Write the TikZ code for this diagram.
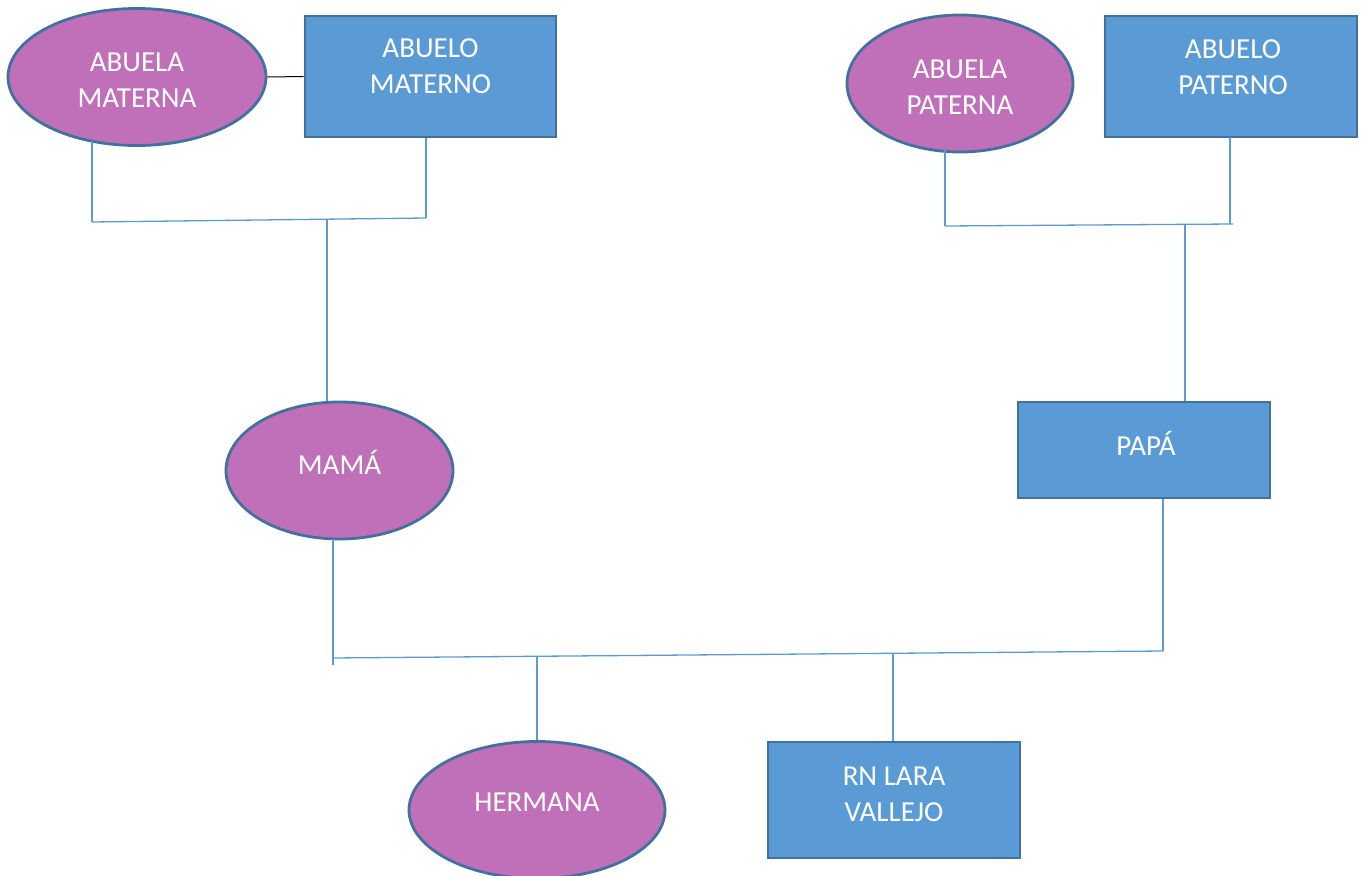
\documentclass[tikz,border=0pt]{standalone}
\usepackage{fontspec}
\setmainfont{Carlito}
\usetikzlibrary{shapes.geometric}
\definecolor{pfill}{RGB}{192,112,184}
\definecolor{bfill}{RGB}{91,155,213}
\definecolor{edgec}{RGB}{65,113,156}
\definecolor{connc}{RGB}{91,155,213}
\begin{document}
\begin{tikzpicture}[x=1pt,y=-1pt,
  oval/.style={ellipse,draw=edgec,fill=pfill,line width=2.8pt,inner sep=0pt},
  box/.style={rectangle,draw=edgec,fill=bfill,line width=2.8pt,inner sep=0pt},
  lbl/.style={text=white,font=\fontsize{29}{36}\selectfont,align=center,inner sep=0pt},
  link/.style={draw=connc,line width=1.3pt}]
\useasboundingbox (0,0) rectangle (1362,875);
% shapes
\node[oval,minimum width=258pt,minimum height=137pt] (am) at (137,77) {};
\node[box,minimum width=251pt,minimum height=121pt] (bm) at (430.5,76.5) {};
\node[oval,minimum width=226pt,minimum height=137pt] (ap) at (960,83.5) {};
\node[box,minimum width=252pt,minimum height=121pt] (bp) at (1231,76.5) {};
\node[oval,minimum width=227pt,minimum height=137pt] (mama) at (339.5,470.5) {};
\node[box,minimum width=252pt,minimum height=96pt] (papa) at (1144,450) {};
\node[oval,minimum width=256pt,minimum height=137pt] (herm) at (537,810) {};
\node[box,minimum width=252pt,minimum height=116pt] (rn) at (894,800) {};
% labels
\node[lbl] (tam) at (137,80) {ABUELA\\MATERNA};
\node[lbl] (tbm) at (430.5,66) {ABUELO\\MATERNO};
\node[lbl] (tap) at (960,87) {ABUELA\\PATERNA};
\node[lbl] (tbp) at (1233,67) {ABUELO\\PATERNO};
\node[lbl] (tmama) at (339.5,462) {MAMÁ};
\node[lbl] (tpapa) at (1146,443) {PAPÁ};
\node[lbl] (therm) at (537,802) {HERMANA};
\node[lbl] (trn) at (894,794) {RN LARA\\VALLEJO};
% couple link (black)
\draw[line width=1pt,black] (am.east) -- (bm.west);
% maternal connectors
\coordinate (m1) at (92,222);
\coordinate (m2) at (426,218);
\coordinate (m3) at (327,218.5);
\draw[link] (92,141) -- (m1);
\draw[link] (m2 |- bm.south) -- (m2);
\draw[link] (m1) -- (m2);
\draw[link] (m3) -- (m3 |- mama.north);
% paternal connectors
\coordinate (p1) at (945,226);
\coordinate (p2) at (1233,224);
\coordinate (p3) at (1185,225);
\draw[link] (945,150) -- (p1);
\draw[link] (1230,137) -- (1230,224);
\draw[link] (p1) -- (p2);
\draw[link] (p3) -- (p3 |- papa.north);
% parents to children
\coordinate (c1) at (332,658);
\coordinate (c2) at (1163,651);
\coordinate (c3) at (537,656.5);
\coordinate (c4) at (893,653.5);
\draw[link] (333,539) -- (333,665);
\draw[link] (c2 |- papa.south) -- (c2);
\draw[link] (c1) -- (c2);
\draw[link] (c3) -- (c3 |- herm.north);
\draw[link] (c4) -- (c4 |- rn.north);
\end{tikzpicture}
\end{document}
